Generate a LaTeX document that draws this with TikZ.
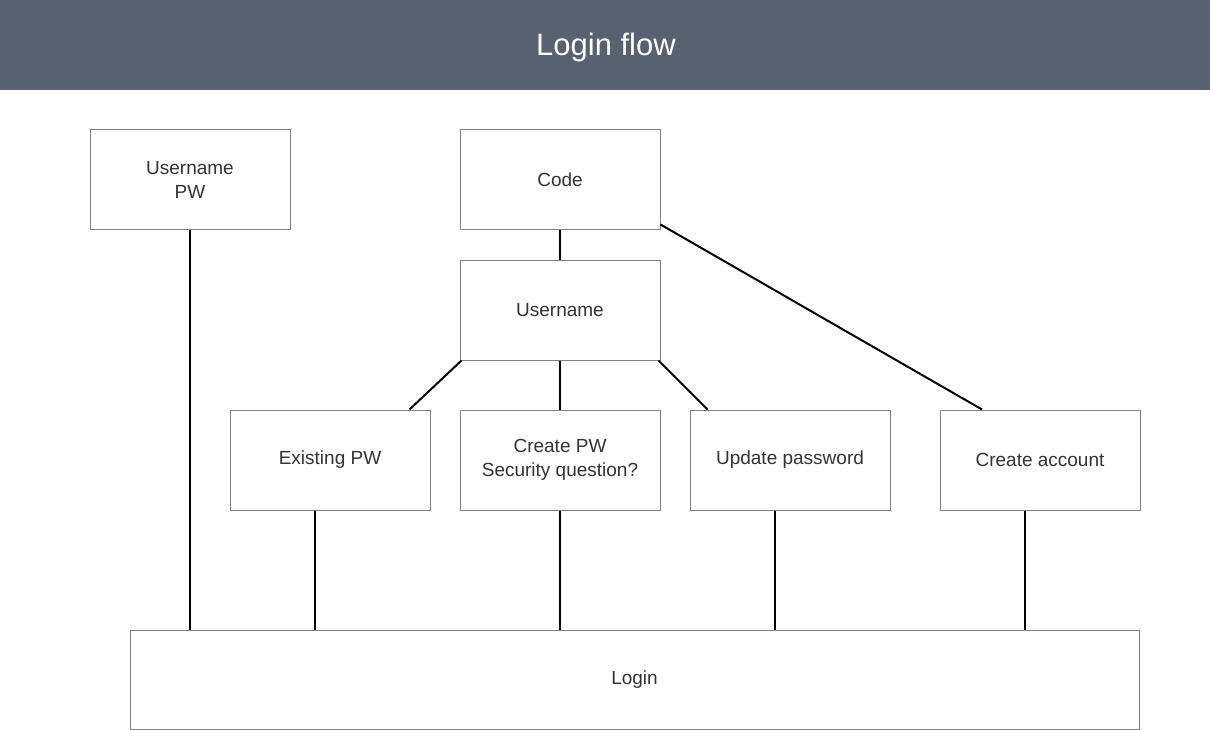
\documentclass[tikz,border=0pt]{standalone}
\usepackage{fontspec}
\setmainfont{Liberation Sans}
\definecolor{headbg}{HTML}{566270}
\definecolor{boxline}{HTML}{808080}
\definecolor{txt}{HTML}{333333}
\begin{document}
\begin{tikzpicture}[x=1pt,y=-1pt,
  box/.style={draw=boxline, line width=1pt, fill=white, minimum width=200pt, minimum height=100pt, inner sep=0pt, align=center, text=txt, font=\fontsize{19}{24}\selectfont},
  link/.style={draw=black, line width=2pt}]
\useasboundingbox (0,0) rectangle (1210,730);
\fill[headbg] (0,0) rectangle (1210,90);
\node[text=white, font=\fontsize{31}{36}\selectfont] (title) at (606,47) {Login flow};
\node[box] (upw) at (190,180) {Username\\PW};
\node[box] (code) at (560,180) {Code};
\node[box] (user) at (560,310) {Username};
\node[box] (exist) at (330,460) {Existing PW};
\node[box] (create) at (560,460) {Create PW\\Security question?};
\node[box] (update) at (790,460) {Update password};
\node[box] (acct) at (1040,460) {Create account};
\node[box, minimum width=1009pt, minimum height=99pt] (login) at (634.5,679.5) {Login};
\draw[link] (upw.south) -- (upw.south |- login.north);
\draw[link] (code.south) -- (user.north);
\draw[link] ([yshift=6pt]code.south east) -- ([xshift=-58pt]acct.north);
\draw[link] ([xshift=2pt]user.south west) -- ([xshift=180pt]exist.north west);
\draw[link] (user.south) -- (create.north);
\draw[link] ([xshift=-2pt]user.south east) -- ([xshift=18pt]update.north west);
\draw[link] ([xshift=-15pt]exist.south) -- ([xshift=-15pt]exist.south |- login.north);
\draw[link] (create.south) -- (create.south |- login.north);
\draw[link] ([xshift=-15pt]update.south) -- ([xshift=-15pt]update.south |- login.north);
\draw[link] ([xshift=-15pt]acct.south) -- ([xshift=-15pt]acct.south |- login.north);
\end{tikzpicture}
\end{document}
